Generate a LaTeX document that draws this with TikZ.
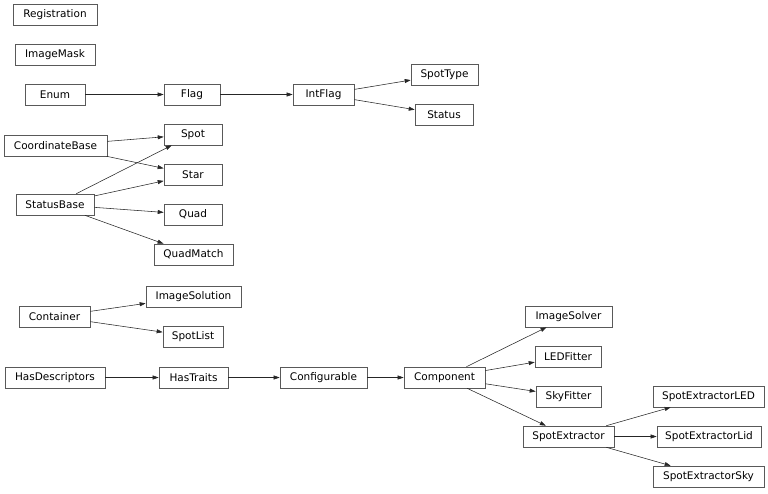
\documentclass[tikz,border=0pt]{standalone}
\usepackage{fontspec}
\setmainfont{DejaVu Sans}
\usetikzlibrary{arrows.meta}
\tikzset{
  cls/.style={draw=black!65, line width=0.6pt, fill=white, minimum height=21pt, inner xsep=2pt, inner ysep=0pt, font=\fontsize{10.5}{12}\selectfont},
  inh/.style={draw=black!85, line width=0.55pt, -{Triangle[length=6pt,width=4pt]}}
}
\begin{document}
\begin{tikzpicture}[x=1pt,y=-1pt]
\useasboundingbox (0,0) rectangle (768,493);
\node[cls, minimum width=84pt] (reg) at (55,14.5) {Registration};
\node[cls, minimum width=80pt] (mask) at (55,54.5) {ImageMask};
\node[cls, minimum width=60pt] (enum) at (55,94.5) {Enum};
\node[cls, minimum width=56pt] (flag) at (192,94.5) {Flag};
\node[cls, minimum width=61pt] (intflag) at (323.5,94.5) {IntFlag};
\node[cls, minimum width=67pt] (spottype) at (444.5,74.5) {SpotType};
\node[cls, minimum width=58pt] (status) at (444,114.5) {Status};
\node[cls, minimum width=103pt] (coord) at (55.5,145.5) {CoordinateBase};
\node[cls, minimum width=58pt] (spot) at (193,134.5) {Spot};
\node[cls, minimum width=58pt] (star) at (193,174.5) {Star};
\node[cls, minimum width=78pt] (statusbase) at (55,204.5) {StatusBase};
\node[cls, minimum width=58pt] (quad) at (193,214.5) {Quad};
\node[cls, minimum width=79pt] (quadmatch) at (193.5,254.5) {QuadMatch};
\node[cls, minimum width=95pt] (imgsol) at (193.5,296.5) {ImageSolution};
\node[cls, minimum width=71pt] (container) at (54.5,316.5) {Container};
\node[cls, minimum width=60pt] (spotlist) at (193,336.5) {SpotList};
\node[cls, minimum width=100pt] (hasdesc) at (55,377.5) {HasDescriptors};
\node[cls, minimum width=69pt] (hastraits) at (193.5,377.5) {HasTraits};
\node[cls, minimum width=87pt] (configurable) at (323.5,377.5) {Configurable};
\node[cls, minimum width=81pt] (component) at (444.5,377.5) {Component};
\node[cls, minimum width=87pt] (imgsolver) at (568.5,316.5) {ImageSolver};
\node[cls, minimum width=66pt] (ledfitter) at (568,356.5) {LEDFitter};
\node[cls, minimum width=65pt] (skyfitter) at (568.5,396.5) {SkyFitter};
\node[cls, minimum width=91pt] (spotext) at (568.5,436.5) {SpotExtractor};
\node[cls, minimum width=111pt] (sel) at (708.5,396.5) {SpotExtractorLED};
\node[cls, minimum width=104pt] (selid) at (709,436.5) {SpotExtractorLid};
\node[cls, minimum width=111pt] (sesky) at (708.5,476.5) {SpotExtractorSky};

\draw[inh] (enum) -- (flag);
\draw[inh] (flag) -- (intflag);
\draw[inh] (intflag) -- (spottype);
\draw[inh] (intflag) -- (status);
\draw[inh] (coord) -- (spot);
\draw[inh] (coord) -- (star);
\draw[inh] (statusbase) -- (spot);
\draw[inh] (statusbase) -- (star);
\draw[inh] (statusbase) -- (quad);
\draw[inh] (statusbase) -- (quadmatch);
\draw[inh] (container) -- (imgsol);
\draw[inh] (container) -- (spotlist);
\draw[inh] (hasdesc) -- (hastraits);
\draw[inh] (hastraits) -- (configurable);
\draw[inh] (configurable) -- (component);
\draw[inh] (component) -- (imgsolver);
\draw[inh] (component) -- (ledfitter);
\draw[inh] (component) -- (skyfitter);
\draw[inh] (component) -- (spotext);
\draw[inh] (spotext) -- (sel);
\draw[inh] (spotext) -- (selid);
\draw[inh] (spotext) -- (sesky);
\end{tikzpicture}
\end{document}
